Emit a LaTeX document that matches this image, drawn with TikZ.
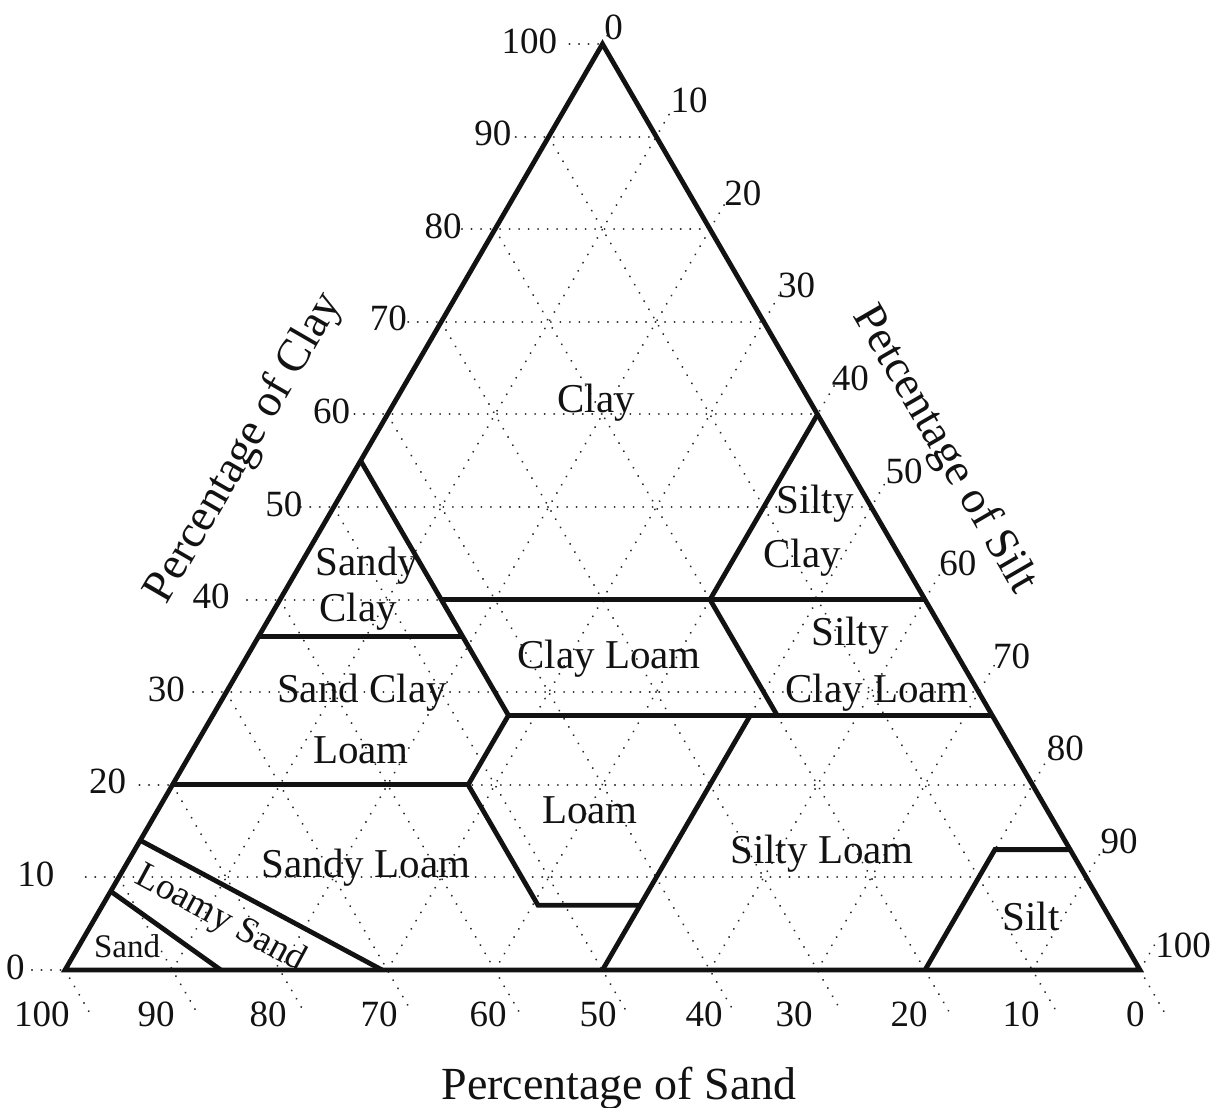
\documentclass[tikz,border=0pt]{standalone}
\usepackage{fontspec}
\setmainfont{Liberation Serif}

\newlength{\du}
\setlength{\du}{0.5\unitlength}
\definecolor{dialinecolor}{rgb}{0.070000, 0.070000, 0.070000}
\definecolor{dialgridcolor}{rgb}{0.150000, 0.150000, 0.150000}
\tikzset{
  gridline/.style={dialgridcolor, line width=2.1\du, line cap=round, dash pattern=on 0.01\du off 9.5\du},
  bound/.style={dialinecolor, line width=4.8\du, line join=miter},
  ticklabel/.style={dialinecolor, inner sep=0pt, font=\fontsize{18.5}{21}\selectfont},
  regionlabel/.style={dialinecolor, inner sep=0pt, anchor=base, font=\fontsize{20.5}{24}\selectfont},
  smalllabel/.style={dialinecolor, inner sep=0pt, anchor=base, font=\fontsize{16.5}{19}\selectfont},
  axistitle/.style={dialinecolor, inner sep=0pt, font=\fontsize{23}{27}\selectfont},
}

\begin{document}
\begin{tikzpicture}
\pgftransformxscale{1.000000}
\pgftransformyscale{-1.000000}
\useasboundingbox (0.000000\du,0.000000\du) rectangle (1217.000000\du,1108.000000\du);
% clay grid
\draw[gridline] (32.000000\du,970.000000\du)--(65.000000\du,970.000000\du);
\draw[gridline] (85.750000\du,877.400000\du)--(1086.250000\du,877.400000\du);
\draw[gridline] (139.500000\du,784.800000\du)--(1032.500000\du,784.800000\du);
\draw[gridline] (193.250000\du,692.200000\du)--(978.750000\du,692.200000\du);
\draw[gridline] (247.000000\du,599.600000\du)--(925.000000\du,599.600000\du);
\draw[gridline] (300.750000\du,507.000000\du)--(871.250000\du,507.000000\du);
\draw[gridline] (354.500000\du,414.400000\du)--(817.500000\du,414.400000\du);
\draw[gridline] (408.250000\du,321.800000\du)--(763.750000\du,321.800000\du);
\draw[gridline] (462.000000\du,229.200000\du)--(710.000000\du,229.200000\du);
\draw[gridline] (515.750000\du,136.600000\du)--(656.250000\du,136.600000\du);
\draw[gridline] (569.500000\du,44.000000\du)--(602.500000\du,44.000000\du);
% sand grid
\draw[gridline] (65.000000\du,970.000000\du)--(89.500000\du,1012.500000\du);
\draw[gridline] (118.750000\du,877.400000\du)--(197.000000\du,1012.500000\du);
\draw[gridline] (172.500000\du,784.800000\du)--(304.500000\du,1012.500000\du);
\draw[gridline] (226.250000\du,692.200000\du)--(412.000000\du,1012.500000\du);
\draw[gridline] (280.000000\du,599.600000\du)--(519.500000\du,1012.500000\du);
\draw[gridline] (333.750000\du,507.000000\du)--(627.000000\du,1012.500000\du);
\draw[gridline] (387.500000\du,414.400000\du)--(734.500000\du,1012.500000\du);
\draw[gridline] (441.250000\du,321.800000\du)--(842.000000\du,1012.500000\du);
\draw[gridline] (495.000000\du,229.200000\du)--(949.500000\du,1012.500000\du);
\draw[gridline] (548.750000\du,136.600000\du)--(1057.000000\du,1012.500000\du);
\draw[gridline] (1140.000000\du,970.000000\du)--(1164.500000\du,1012.500000\du);
% silt grid
\draw[gridline] (602.500000\du,44.000000\du)--(610.500000\du,30.200000\du);
\draw[gridline] (172.500000\du,970.000000\du)--(673.250000\du,107.300000\du);
\draw[gridline] (280.000000\du,970.000000\du)--(727.000000\du,199.900000\du);
\draw[gridline] (387.500000\du,970.000000\du)--(780.750000\du,292.500000\du);
\draw[gridline] (495.000000\du,970.000000\du)--(834.500000\du,385.100000\du);
\draw[gridline] (602.500000\du,970.000000\du)--(888.250000\du,477.700000\du);
\draw[gridline] (710.000000\du,970.000000\du)--(942.000000\du,570.300000\du);
\draw[gridline] (817.500000\du,970.000000\du)--(995.750000\du,662.900000\du);
\draw[gridline] (925.000000\du,970.000000\du)--(1049.500000\du,755.500000\du);
\draw[gridline] (1032.500000\du,970.000000\du)--(1103.250000\du,848.100000\du);
\draw[gridline] (1140.000000\du,970.000000\du)--(1157.000000\du,940.700000\du);
% outline and class borders
\draw[bound] (65.000000\du,970.000000\du)--(1140.000000\du,970.000000\du)--(602.500000\du,44.000000\du)--cycle;
\draw[bound] (360.625000\du,460.700000\du)--(508.440000\du,715.350000\du)--(468.125000\du,784.800000\du)--(538.000000\du,905.180000\du)--(640.125000\du,905.180000\du);
\draw[bound] (602.500000\du,970.000000\du)--(750.310000\du,715.350000\du);
\draw[bound] (508.440000\du,715.350000\du)--(992.190000\du,715.350000\du);
\draw[bound] (441.250000\du,599.600000\du)--(925.000000\du,599.600000\du);
\draw[bound] (817.500000\du,414.400000\du)--(710.000000\du,599.600000\du)--(777.190000\du,715.350000\du);
\draw[bound] (258.500000\du,636.640000\du)--(462.750000\du,636.640000\du);
\draw[bound] (172.500000\du,784.800000\du)--(468.125000\du,784.800000\du);
\draw[bound] (925.000000\du,970.000000\du)--(994.875000\du,849.620000\du)--(1070.125000\du,849.620000\du);
\draw[bound] (140.250000\du,840.360000\du)--(382.125000\du,970.000000\du);
\draw[bound] (110.690000\du,891.290000\du)--(220.875000\du,970.000000\du);
% clay ticks
\node[ticklabel, anchor=east] (cl0) at (25.000000\du,967.000000\du){0};
\node[ticklabel, anchor=east] (cl10) at (54.750000\du,874.400000\du){10};
\node[ticklabel, anchor=east] (cl20) at (126.500000\du,781.800000\du){20};
\node[ticklabel, anchor=east] (cl30) at (185.250000\du,689.200000\du){30};
\node[ticklabel, anchor=east] (cl40) at (230.000000\du,596.600000\du){40};
\node[ticklabel, anchor=east] (cl50) at (302.750000\du,504.000000\du){50};
\node[ticklabel, anchor=east] (cl60) at (350.500000\du,411.400000\du){60};
\node[ticklabel, anchor=east] (cl70) at (407.250000\du,318.800000\du){70};
\node[ticklabel, anchor=east] (cl80) at (462.000000\du,226.200000\du){80};
\node[ticklabel, anchor=east] (cl90) at (511.750000\du,133.600000\du){90};
\node[ticklabel, anchor=east] (cl100) at (557.500000\du,41.000000\du){100};
% silt ticks
\node[ticklabel] (si0) at (613.500000\du,27.000000\du){0};
\node[ticklabel, anchor=west] (si10) at (670.250000\du,100.600000\du){10};
\node[ticklabel, anchor=west] (si20) at (724.000000\du,193.200000\du){20};
\node[ticklabel, anchor=west] (si30) at (777.750000\du,285.800000\du){30};
\node[ticklabel, anchor=west] (si40) at (831.500000\du,378.400000\du){40};
\node[ticklabel, anchor=west] (si50) at (885.250000\du,471.000000\du){50};
\node[ticklabel, anchor=west] (si60) at (939.000000\du,563.600000\du){60};
\node[ticklabel, anchor=west] (si70) at (992.750000\du,656.200000\du){70};
\node[ticklabel, anchor=west] (si80) at (1046.500000\du,748.800000\du){80};
\node[ticklabel, anchor=west] (si90) at (1100.250000\du,841.400000\du){90};
\node[ticklabel, anchor=west] (si100) at (1155.000000\du,945.000000\du){100};
% sand ticks
\node[ticklabel, anchor=east] (sa100) at (70.000000\du,1014.000000\du){100};
\node[ticklabel, anchor=east] (sa90) at (175.000000\du,1014.000000\du){90};
\node[ticklabel, anchor=east] (sa80) at (287.000000\du,1014.000000\du){80};
\node[ticklabel, anchor=east] (sa70) at (398.000000\du,1014.000000\du){70};
\node[ticklabel, anchor=east] (sa60) at (507.000000\du,1014.000000\du){60};
\node[ticklabel, anchor=east] (sa50) at (617.000000\du,1014.000000\du){50};
\node[ticklabel, anchor=east] (sa40) at (723.000000\du,1014.000000\du){40};
\node[ticklabel, anchor=east] (sa30) at (813.000000\du,1014.000000\du){30};
\node[ticklabel, anchor=east] (sa20) at (928.000000\du,1014.000000\du){20};
\node[ticklabel, anchor=east] (sa10) at (1040.000000\du,1014.000000\du){10};
\node[ticklabel, anchor=east] (sa0) at (1145.000000\du,1014.000000\du){0};
% class names
\node[regionlabel] (clay) at (596.000000\du,412.000000\du){Clay};
\node[regionlabel] (sandyclaya) at (367.000000\du,575.000000\du){Sandy};
\node[regionlabel] (sandyclayb) at (358.000000\du,621.000000\du){Clay};
\node[regionlabel] (siltyclaya) at (815.000000\du,513.000000\du){Silty};
\node[regionlabel] (siltyclayb) at (802.000000\du,567.000000\du){Clay};
\node[regionlabel] (siltyclayloama) at (850.000000\du,645.000000\du){Silty};
\node[regionlabel] (siltyclayloamb) at (877.000000\du,702.000000\du){Clay Loam};
\node[regionlabel] (clayloam) at (609.000000\du,668.000000\du){Clay Loam};
\node[regionlabel] (sandclayloama) at (362.000000\du,702.000000\du){Sand Clay};
\node[regionlabel] (sandclayloamb) at (361.000000\du,763.000000\du){Loam};
\node[regionlabel] (loam) at (590.000000\du,823.000000\du){Loam};
\node[regionlabel] (sandyloam) at (366.000000\du,877.000000\du){Sandy Loam};
\node[regionlabel] (siltyloam) at (822.000000\du,863.000000\du){Silty Loam};
\node[regionlabel] (silt) at (1031.000000\du,930.000000\du){Silt};
\node[regionlabel, font=\fontsize{18.5}{22}\selectfont, rotate=-28.300000] (loamysand) at (216.000000\du,927.000000\du){Loamy Sand};
\node[smalllabel] (sand) at (127.000000\du,957.000000\du){Sand};
% axis titles
\node[axistitle, rotate=59.900000] (claytitle) at (245.000000\du,448.000000\du){Percentage of Clay};
\node[axistitle, rotate=-59.900000] (silttitle) at (944.000000\du,450.000000\du){Petcentage of Silt};
\node[axistitle, anchor=base] (sandtitle) at (619.000000\du,1099.000000\du){Percentage of Sand};
\end{tikzpicture}
\end{document}
